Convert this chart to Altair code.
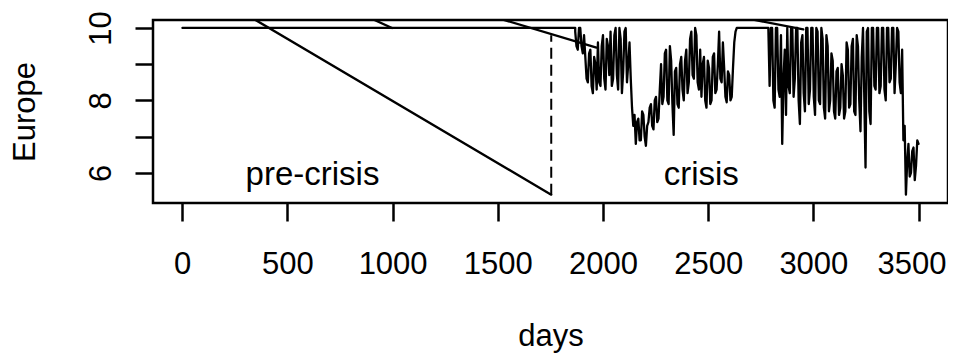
import altair as alt
import pandas as pd

# ---- data ----
pre_days = [1, 1868]
pre_vals = [10.0, 10.0]

crisis_start = 1868
crisis_step = 12
# value at the start of each 12-day slot
crisis_vals = [
    9.9, 9.4, 10.0, 9.3,
    9.2, 8.5, 9.4, 8.2, 9.0,
    9.6, 8.4, 9.8, 8.3, 9.5,
    9.9, 8.6, 10.0, 8.3, 9.7, 8.8, 10.0, 9.0,
    8.6, 7.3, 6.8, 7.5, 6.9, 7.6, 6.75,
    7.4, 7.9, 7.2, 8.1, 7.5,
    9.0, 8.1, 9.4, 7.9, 9.1, 7.05, 8.9, 7.8,
    9.2, 8.0, 9.4, 8.5, 9.9, 8.6, 9.8, 8.3,
    8.1, 9.2, 7.8, 8.9, 8.0, 9.3, 8.3,
    9.9, 8.5, 8.9, 7.95, 8.7, 8.1, 9.6, 10.0,
    10.0, 10.0, 10.0, 10.0, 10.0, 10.0, 10.0, 10.0, 10.0, 10.0, 10.0, 10.0,
    8.4, 10.0, 7.8, 10.0, 8.1, 6.8, 9.4, 10.0, 8.2,
    10.0, 8.6, 10.0, 7.35, 9.8,
    7.7, 10.0, 8.3, 10.0, 7.6, 9.9,
    7.9, 9.7, 7.5, 9.5, 8.0,
    9.1, 7.5, 8.9, 7.8, 8.7,
    7.7, 9.4, 7.9, 9.7, 7.6, 9.5, 7.15,
    10.0, 6.15, 10.0, 7.35, 10.0, 8.3, 10.0, 8.4, 10.0, 8.0, 10.0, 8.6, 10.0, 9.0, 9.9, 8.2,
    6.9, 5.4, 6.8, 6.0, 6.7, 6.2, 6.8,
]
# value in the middle of each 12-day slot
crisis_mid_vals = [
    9.5, 10.0, 9.5, 9.8,
    8.6, 9.3, 8.4, 9.2, 8.3,
    8.5, 9.5, 8.6, 9.7, 8.7,
    8.4, 9.8, 8.7, 10.0, 8.2, 9.9, 8.5, 9.6,
    7.8, 7.6, 7.4, 6.9, 7.7, 7.0, 7.3,
    7.8, 7.3, 8.0, 7.4, 8.3,
    7.9, 9.3, 8.0, 9.5, 7.9, 8.8, 7.9, 9.0,
    8.3, 9.1, 8.2, 9.7, 8.7, 10.0, 8.5, 9.4,
    9.0, 8.0, 9.1, 7.9, 9.2, 8.2, 9.0,
    8.6, 9.6, 8.1, 8.8, 8.0, 8.9, 9.9, 10.0,
    10.0, 10.0, 10.0, 10.0, 10.0, 10.0, 10.0, 10.0, 10.0, 10.0, 10.0, 10.0,
    10.0, 8.0, 10.0, 8.3, 9.8, 8.6, 7.6, 8.4, 10.0,
    8.1, 10.0, 8.0, 9.6, 8.2,
    10.0, 7.9, 10.0, 8.1, 10.0, 8.0,
    10.0, 7.8, 9.8, 7.7, 9.3,
    7.7, 8.8, 7.6, 9.0, 7.5,
    9.6, 7.8, 9.5, 7.7, 9.8, 8.0, 9.2,
    8.1, 9.9, 7.7, 10.0, 8.4, 10.0, 8.2, 10.0, 8.3, 10.0, 8.5, 10.0, 8.2, 10.0, 8.5, 9.4,
    7.3, 6.3, 5.9, 6.6, 5.8, 6.9,
]

# stray straight segments (start above the plotted range, clipped)
seg_a_days = [200, 1754]
seg_a_vals = [10.73, 5.40]
seg_b_days = [850, 997]
seg_b_vals = [10.39, 10.0]
seg_c_days = [1400, 1969]
seg_c_vals = [10.445, 9.46]
seg_d_days = [2600, 2952]
seg_d_vals = [10.36, 9.96]

split_day = [1754]
split_low = [5.40]
split_high = [9.8]

period_labels = ["pre-crisis", "crisis"]
period_days = [619, 2467]
period_vals = [5.675, 5.675]

x_ticks = [0, 500, 1000, 1500, 2000, 2500, 3000, 3500]
y_ticks = [6, 7, 8, 9, 10]

# ---- build tables ----
main_days = list(pre_days)
main_vals = list(pre_vals)
half = crisis_step // 2
for i, v in enumerate(crisis_vals):
    main_days.append(crisis_start + crisis_step * i)
    main_vals.append(v)
    if i < len(crisis_mid_vals):
        main_days.append(crisis_start + crisis_step * i + half)
        main_vals.append(crisis_mid_vals[i])

rows = []
for i, (d, v) in enumerate(zip(main_days, main_vals)):
    rows.append({"day": d, "value": v, "seg": "main", "ord": i})
for name, ds, vs in [("a", seg_a_days, seg_a_vals), ("b", seg_b_days, seg_b_vals),
                     ("c", seg_c_days, seg_c_vals), ("d", seg_d_days, seg_d_vals)]:
    for i, (d, v) in enumerate(zip(ds, vs)):
        rows.append({"day": d, "value": v, "seg": name, "ord": i})
line_df = pd.DataFrame(rows)

split_df = pd.DataFrame({"day": split_day, "lo": split_low, "hi": split_high})
text_df = pd.DataFrame({"day": period_days, "value": period_vals, "label": period_labels})

FONT = "Liberation Sans"
FS = 31
W, H = 795, 183

xscale = alt.Scale(domain=[-139, 3640], nice=False, zero=False)
yscale = alt.Scale(domain=[5.17, 10.22], nice=False, zero=False)

x_axis = alt.Axis(
    values=x_ticks, format="d", title="days", grid=False, domain=False,
    tickSize=18, tickWidth=2.5, tickColor="black",
    labelFont=FONT, labelFontSize=FS, labelColor="black", labelPadding=28,
    labelBaseline="top", labelAlign="center", labelFlush=False, labelOverlap=False,
    labelBound=False,
    labelOffset={"expr": "datum.value == 3500 ? -7 : 0"},
    titleFont=FONT, titleFontSize=FS, titleFontWeight="normal", titleColor="black",
    titleX=W / 2, titleY=142, titleBaseline="alphabetic", titleAlign="center",
)
y_axis = alt.Axis(
    values=y_ticks, title="Europe", grid=False, domain=False,
    labelExpr="datum.value % 2 == 0 ? datum.label : ''",
    tickSize=18, tickWidth=2.5, tickColor="black",
    labelFont=FONT, labelFontSize=FS, labelColor="black", labelPadding=25,
    labelAngle=270, labelAlign="center", labelBaseline="alphabetic",
    labelFlush=False, labelOverlap=False, labelBound=False,
    titleFont=FONT, titleFontSize=FS, titleFontWeight="normal", titleColor="black",
    titleAngle=270, titleX=-119, titleY=H / 2, titleBaseline="alphabetic", titleAlign="center",
)

lines = alt.Chart(line_df).mark_line(
    color="black", strokeWidth=2.3, clip=True, strokeJoin="round", strokeCap="round"
).encode(
    x=alt.X("day:Q", scale=xscale, axis=x_axis),
    y=alt.Y("value:Q", scale=yscale, axis=y_axis),
    detail="seg:N",
    order="ord:Q",
)

split = alt.Chart(split_df).mark_rule(
    color="black", strokeWidth=2, strokeDash=[11, 6]
).encode(
    x=alt.X("day:Q", scale=xscale),
    y=alt.Y("lo:Q", scale=yscale),
    y2="hi:Q",
)

texts = alt.Chart(text_df).mark_text(
    font=FONT, fontSize=33, color="black", align="center", baseline="alphabetic"
).encode(
    x=alt.X("day:Q", scale=xscale),
    y=alt.Y("value:Q", scale=yscale),
    text="label:N",
)

chart = alt.layer(lines, split, texts).properties(
    width=W, height=H,
    autosize=alt.AutoSizeParams(type="none"),
    padding={"left": 145, "top": 12, "right": 0, "bottom": 153},
).configure(
    background="white",
    view=alt.ViewConfig(stroke="black", strokeWidth=2.5, fill="white"),
)

chart.save("out.html", embed_options={"renderer": "svg", "actions": False})
